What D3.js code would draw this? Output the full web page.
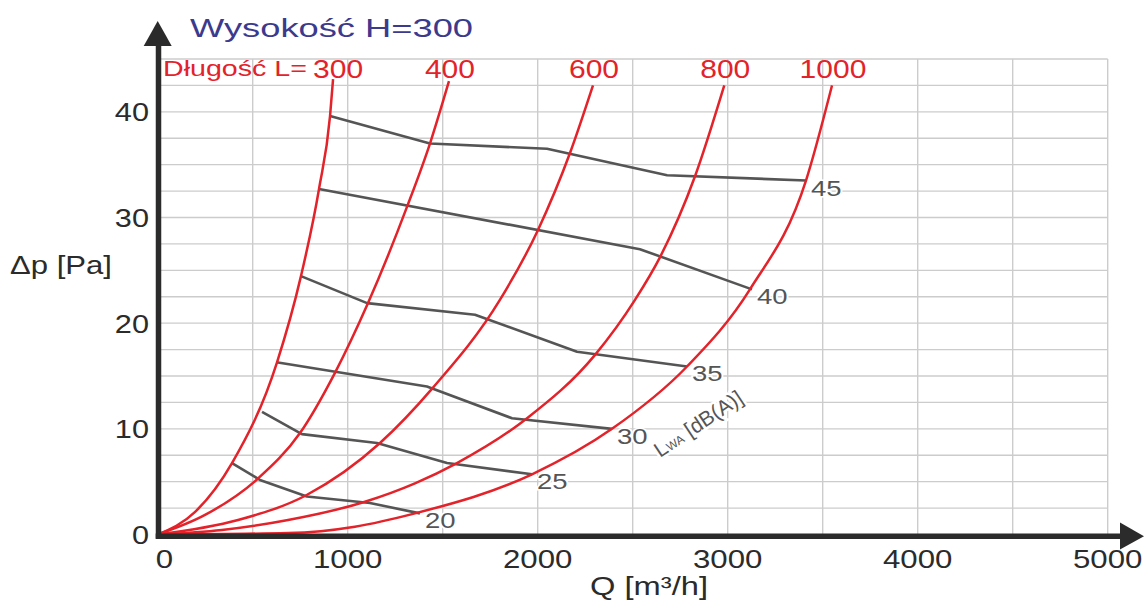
<!DOCTYPE html>
<html>
<head>
<meta charset="utf-8">
<script src="https://cdn.jsdelivr.net/npm/d3@7"></script>
<style>
  body { margin: 0; background: #fff; }
  text { font-family: "Liberation Sans", Arial, sans-serif; }
</style>
</head>
<body>
<svg id="chart" width="1144" height="601"></svg>
<script>
// axis ticks
const qTicks = [0, 1000, 2000, 3000, 4000, 5000];
const pTicks = [0, 10, 20, 30, 40];
const qGrid = [500, 1000, 1500, 2000, 2500, 3000, 3500, 4000, 4500, 5000];
const pGrid = [2.5, 5, 7.5, 10, 12.5, 15, 17.5, 20, 22.5, 25, 27.5, 30, 32.5, 35, 37.5, 40, 42.5, 45];

// pressure drop curves, one per length L  [Q m3/h, dp Pa]
const lengths = ["300", "400", "600", "800", "1000"];
const curveL300 = [[0, 0], [197, 2.14], [391, 6.76], [628, 16.3], [754, 24.45], [849, 32.7], [907, 39.6], [923, 43.1]];
const curveL400 = [[0, 0], [249, 1.85], [528, 5.3], [749, 9.6], [933, 15.3], [1107, 21.9], [1312, 31.0], [1433, 37.0], [1533, 42.9]];
const curveL600 = [[0, 0], [423, 1.37], [784, 3.74], [1170, 8.66], [1449, 13.9], [1801, 22.2], [2001, 28.8], [2170, 36.1], [2291, 42.5]];
const curveL800 = [[0, 0], [338, 0.43], [686, 1.37], [1091, 3.1], [1354, 4.84], [1575, 6.76], [1944, 11.0], [2302, 17.0], [2512, 22.2], [2644, 26.25], [2828, 33.9], [2982, 42.5]];
const curveL1000 = [[0, 0], [686, 0.14], [1038, 0.74], [1354, 2.0], [1970, 5.7], [2391, 10.0], [2786, 15.9], [3117, 23.2], [3412, 33.5], [3549, 42.5]];
const curves = [curveL300, curveL400, curveL600, curveL800, curveL1000];

// sound power level lines LWA [dB(A)]
const levels = ["20", "25", "30", "35", "40", "45"];
const lwa20 = [[391, 6.76], [538, 5.16], [785, 3.6], [1117, 2.98], [1380, 2.0]];
const lwa25 = [[549, 11.6], [759, 9.5], [1154, 8.66], [1523, 6.76], [1970, 5.7]];
const lwa30 = [[625, 16.3], [1417, 14.0], [1865, 11.0], [2391, 10.0]];
const lwa35 = [[754, 24.45], [1102, 21.9], [1670, 20.8], [2207, 17.3], [2786, 15.9]];
const lwa40 = [[849, 32.7], [2538, 27.0], [3128, 23.2]];
const lwa45 = [[907, 39.6], [1433, 37.0], [2049, 36.5], [2681, 34.0], [3412, 33.5]];
const lwaLines = [lwa20, lwa25, lwa30, lwa35, lwa40, lwa45];

const red = "#e3222a", dark = "#2b2b2b", gray = "#555555";

const svg = d3.select("#chart");
const x = d3.scaleLinear().domain([0, 5000]).range([157.7, 1107.7]);
const y = d3.scaleLinear().domain([0, 45]).range([534.5, 59]);

// stretch text horizontally, the original lettering is wide
function stretch(sel, k) {
  sel.each(function() {
    const w = this.getComputedTextLength();
    this.setAttribute("textLength", w * k);
    this.setAttribute("lengthAdjust", "spacingAndGlyphs");
  });
}

// grid
const grid = svg.append("g").attr("stroke", "#cccccc").attr("stroke-width", 1.4);
grid.selectAll(".h").data(pGrid).enter().append("line")
    .attr("x1", x(0)).attr("x2", x(5000))
    .attr("y1", d => y(d)).attr("y2", d => y(d));
grid.selectAll(".v").data(qGrid).enter().append("line")
    .attr("x1", d => x(d)).attr("x2", d => x(d))
    .attr("y1", y(0)).attr("y2", y(45));

// LWA lines
const poly = d3.line().x(d => x(d[0])).y(d => y(d[1]));
svg.append("g").selectAll("path").data(lwaLines).enter().append("path")
    .attr("d", poly)
    .attr("fill", "none")
    .attr("stroke", gray)
    .attr("stroke-width", 2.6)
    .attr("stroke-linejoin", "round");

// pressure curves
const smooth = d3.line().x(d => x(d[0])).y(d => y(d[1])).curve(d3.curveMonotoneX);
svg.append("g").selectAll("path").data(curves).enter().append("path")
    .attr("d", smooth)
    .attr("fill", "none")
    .attr("stroke", red)
    .attr("stroke-width", 2.5);

// axes with arrows
svg.append("line")
    .attr("x1", x(0) + 0.8).attr("x2", x(0) + 0.8)
    .attr("y1", y(0) + 4).attr("y2", 40)
    .attr("stroke", dark).attr("stroke-width", 5.5);
svg.append("path")
    .attr("d", `M${x(0) - 14},46 L${x(0)},21 L${x(0) + 14},46 Z`)
    .attr("fill", dark);
svg.append("line")
    .attr("x1", x(0) - 2).attr("x2", 1124)
    .attr("y1", y(0) + 1.8).attr("y2", y(0) + 1.8)
    .attr("stroke", dark).attr("stroke-width", 5.5);
svg.append("path")
    .attr("d", `M1120,${y(0) - 12} L1144,${y(0) + 1.8} L1120,${y(0) + 15} Z`)
    .attr("fill", dark);

// tick labels
svg.append("g").selectAll("text").data(pTicks).enter().append("text")
    .attr("x", 149)
    .attr("y", d => y(d) + 9.5)
    .attr("text-anchor", "end")
    .attr("font-size", 26)
    .attr("fill", dark)
    .text(d => d)
    .call(stretch, 1.18);

svg.append("g").selectAll("text").data(qTicks).enter().append("text")
    .attr("x", d => d === 0 ? x(0) - 2 : x(d))
    .attr("y", 568)
    .attr("text-anchor", d => d === 0 ? "start" : "middle")
    .attr("font-size", 26)
    .attr("fill", dark)
    .text(d => d)
    .call(stretch, 1.2);

// axis titles
svg.append("text")
    .attr("x", 10).attr("y", 274)
    .attr("font-size", 25).attr("fill", dark)
    .attr("textLength", 102).attr("lengthAdjust", "spacingAndGlyphs")
    .text("Δp [Pa]");
svg.append("text")
    .attr("x", 590).attr("y", 595)
    .attr("font-size", 26).attr("fill", dark)
    .attr("textLength", 118).attr("lengthAdjust", "spacingAndGlyphs")
    .text("Q [m³/h]");

// title
svg.append("text")
    .attr("x", 190).attr("y", 37)
    .attr("font-size", 26).attr("fill", "#3c3a8d")
    .attr("textLength", 283).attr("lengthAdjust", "spacingAndGlyphs")
    .text("Wysokość H=300");

// length labels
svg.append("text")
    .attr("x", 163).attr("y", 76)
    .attr("font-size", 22).attr("fill", red)
    .attr("textLength", 144).attr("lengthAdjust", "spacingAndGlyphs")
    .text("Długość L=");
svg.append("g").selectAll("text").data(curves).enter().append("text")
    .attr("x", (d, i) => x(d[d.length - 1][0]) + (i === 0 ? 5 : 1))
    .attr("y", 78)
    .attr("text-anchor", "middle")
    .attr("font-size", 25)
    .attr("fill", red)
    .text((d, i) => lengths[i])
    .call(stretch, 1.2);

// level labels
svg.append("g").selectAll("text").data(lwaLines).enter().append("text")
    .attr("x", d => x(d[d.length - 1][0]) + 5)
    .attr("y", d => y(d[d.length - 1][1]) + 15)
    .attr("font-size", 22)
    .attr("fill", gray)
    .attr("stroke", "#fff").attr("stroke-width", 3)
    .attr("paint-order", "stroke")
    .text((d, i) => levels[i])
    .call(stretch, 1.25);

const lwa = svg.append("text")
    .attr("transform", "translate(660,458) rotate(-33.7)")
    .attr("fill", gray)
    .attr("stroke", "#fff").attr("stroke-width", 5)
    .attr("paint-order", "stroke");
lwa.append("tspan").attr("font-size", 21).text("L");
lwa.append("tspan").attr("font-size", 12).text("WA");
lwa.append("tspan").attr("font-size", 21).text(" [dB(A)]");
</script>
</body>
</html>
